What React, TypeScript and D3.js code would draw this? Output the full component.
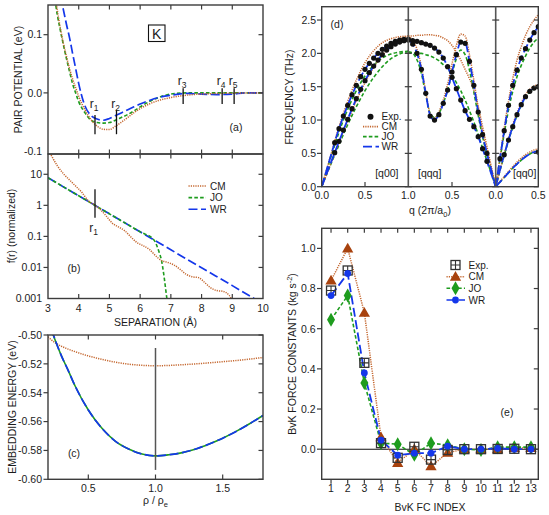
import { useEffect, useRef } from "react"
import * as d3 from "d3"

// ---------- (a) pair potential, eV vs separation (Å) ----------
const R_PAIR = [3.2, 3.3, 3.4, 3.5, 3.6, 3.7, 3.8, 3.9, 4.0, 4.2, 4.4, 4.6, 4.8, 5.0, 5.2, 5.4, 5.6, 5.8, 6.0, 6.3, 6.6, 7.0, 7.5, 8.0, 8.5, 9.0, 9.5, 10.0]
const PAIR_CM = [0.18, 0.143, 0.112, 0.085, 0.063, 0.042, 0.024, 0.009, -0.006, -0.029, -0.046, -0.057, -0.0625, -0.063, -0.057, -0.05, -0.042, -0.034, -0.027, -0.019, -0.013, -0.008, -0.004, -0.002, -0.001, -0.0005, 0, 0]
const PAIR_JO = [0.17, 0.135, 0.108, 0.083, 0.059, 0.037, 0.016, 0.0, -0.015, -0.034, -0.047, -0.051, -0.052, -0.051, -0.047, -0.042, -0.037, -0.031, -0.024, -0.015, -0.008, -0.002, 0, 0, 0, 0, 0, 0]
const PAIR_WR = [0.23, 0.195, 0.168, 0.143, 0.118, 0.095, 0.068, 0.042, 0.016, -0.022, -0.039, -0.045, -0.047, -0.044, -0.039, -0.034, -0.029, -0.024, -0.019, -0.013, -0.008, -0.004, -0.001, -0.002, -0.003, -0.002, 0, 0]
const NEIGHBOURS = [4.53, 5.23, 7.4, 8.67, 9.06]

// ---------- (b) density function f(r), normalized ----------
const R_DENS_CM = [3.1, 3.3, 3.5, 3.7, 3.9, 4.1, 4.3, 4.53, 4.7, 4.9, 5.1, 5.3, 5.5, 5.7, 5.9, 6.1, 6.3, 6.5, 6.7, 6.9, 7.1, 7.3, 7.5, 7.7, 7.9, 8.1, 8.3, 8.5, 8.7, 8.9, 9.0, 9.1]
const DENS_CM = [41.7, 19.1, 10.5, 6.6, 4.17, 2.63, 1.45, 1.0, 0.74, 0.447, 0.263, 0.2, 0.151, 0.0955, 0.063, 0.05, 0.038, 0.024, 0.0166, 0.0145, 0.012, 0.0087, 0.006, 0.005, 0.0047, 0.0033, 0.0022, 0.0018, 0.0017, 0.00126, 0.00089, 0.0006]
const R_DENS_JO = [3, 4, 4.53, 5, 6, 6.45, 6.6, 6.7, 6.78, 6.87, 6.95]
const DENS_JO = [7.7, 2.03, 1, 0.533, 0.14, 0.077, 0.035, 0.016, 0.005, 0.001, 0.0003]
const R_DENS_WR = [3, 4, 5, 6, 7, 8, 9, 10]
const DENS_WR = [7.7, 2.03, 0.533, 0.14, 0.037, 0.0097, 0.0026, 0.00067]

// ---------- (c) embedding energy, eV vs rho/rho_e ----------
const RHO = [0.2, 0.25, 0.3, 0.35, 0.4, 0.5, 0.6, 0.7, 0.8, 0.9, 1.0, 1.1, 1.2, 1.3, 1.4, 1.5, 1.6, 1.7, 1.8]
const EMB_CM = [-0.5012, -0.5052, -0.5078, -0.5098, -0.5115, -0.5145, -0.5168, -0.5188, -0.5202, -0.521, -0.5213, -0.5211, -0.5206, -0.52, -0.5193, -0.5185, -0.5177, -0.5167, -0.5156]
const EMB_JO = [-0.49, -0.5028, -0.5145, -0.5245, -0.535, -0.552, -0.5645, -0.5735, -0.579, -0.5825, -0.5838, -0.583, -0.5815, -0.579, -0.5755, -0.5715, -0.5668, -0.5615, -0.5558]
const EMB_WR = [-0.488, -0.5025, -0.5145, -0.5245, -0.535, -0.552, -0.5645, -0.5735, -0.579, -0.5825, -0.5838, -0.583, -0.5815, -0.579, -0.5755, -0.5715, -0.5668, -0.5615, -0.5558]

// ---------- (d) phonon dispersion, THz ----------
// [q00]
const Q_Q00 = [0, 0.1, 0.2, 0.3, 0.4, 0.5, 0.6, 0.7, 0.8, 0.9, 1.0]
const Q00_WR_L = [0, 0.44, 0.87, 1.22, 1.52, 1.76, 1.93, 2.06, 2.15, 2.2, 2.21]
const Q00_WR_T = [0, 0.34, 0.68, 1.01, 1.32, 1.59, 1.81, 1.98, 2.1, 2.17, 2.21]
const Q00_CM_L = [0, 0.45, 0.9, 1.28, 1.6, 1.86, 2.04, 2.16, 2.22, 2.25, 2.26]
const Q00_CM_T = [0, 0.33, 0.66, 0.98, 1.29, 1.56, 1.79, 1.97, 2.11, 2.21, 2.26]
const Q00_JO_L = [0, 0.42, 0.82, 1.16, 1.44, 1.66, 1.82, 1.93, 1.99, 2.02, 2.03]
const Q00_JO_T = [0, 0.32, 0.63, 0.93, 1.2, 1.44, 1.64, 1.8, 1.92, 1.99, 2.03]
const Q_Q00_EXP = [0.15, 0.2, 0.25, 0.3, 0.35, 0.4, 0.45, 0.5, 0.55, 0.6, 0.65, 0.7, 0.75, 0.8, 0.85, 0.9, 0.95, 1.0]
const Q00_EXP_L = [0.66, 0.87, 1.06, 1.22, 1.38, 1.52, 1.65, 1.76, 1.85, 1.93, 2.0, 2.06, 2.11, 2.15, 2.18, 2.2, 2.21, 2.21]
const Q00_EXP_T = [0.51, 0.68, 0.85, 1.01, 1.17, 1.32, 1.46, 1.59, 1.71, 1.81, 1.9, 1.98, 2.05, 2.1, 2.14, 2.17, 2.19, 2.2]
// [qqq]
const Q_QQQ = [0, 0.05, 0.1, 0.15, 0.2, 0.25, 0.3, 0.35, 0.4, 0.45, 0.5, 0.55, 0.6, 0.65, 0.7, 0.75, 0.8, 0.85, 0.9, 0.95, 1.0]
const QQQ_WR_L = [0, 0.25, 0.5, 0.78, 1.12, 1.52, 1.88, 2.16, 2.17, 1.98, 1.72, 1.45, 1.25, 1.08, 1.0, 1.07, 1.4, 1.76, 2.0, 2.14, 2.2]
const QQQ_WR_T = [0, 0.19, 0.38, 0.57, 0.75, 0.9, 1.01, 1.14, 1.3, 1.47, 1.64, 1.8, 1.93, 2.02, 2.08, 2.12, 2.14, 2.16, 2.18, 2.19, 2.2]
const QQQ_CM_L = [0, 0.26, 0.52, 0.82, 1.18, 1.6, 1.98, 2.26, 2.29, 2.12, 1.84, 1.54, 1.3, 1.12, 1.03, 1.1, 1.42, 1.8, 2.06, 2.2, 2.26]
const QQQ_CM_T = [0, 0.3, 0.6, 0.9, 1.2, 1.45, 1.62, 1.76, 1.9, 2.02, 2.12, 2.19, 2.23, 2.26, 2.27, 2.28, 2.28, 2.27, 2.27, 2.26, 2.26]
const QQQ_JO_L = [0, 0.24, 0.48, 0.75, 1.07, 1.42, 1.75, 1.98, 2.05, 1.92, 1.7, 1.45, 1.25, 1.1, 1.04, 1.1, 1.38, 1.7, 1.9, 2.0, 2.02]
const QQQ_JO_T = [0, 0.2, 0.39, 0.58, 0.78, 0.97, 1.14, 1.3, 1.44, 1.56, 1.68, 1.77, 1.83, 1.89, 1.93, 1.96, 1.98, 2.0, 2.0, 2.01, 2.02]
const Q_QQQ_EXP_L = [0.1, 0.15, 0.2, 0.25, 0.3, 0.35, 0.4, 0.45, 0.5, 0.55, 0.6, 0.65, 0.7, 0.75, 0.8, 0.85, 0.9, 0.95]
const QQQ_EXP_L = [0.5, 0.78, 1.12, 1.52, 1.88, 2.15, 2.17, 1.98, 1.72, 1.45, 1.25, 1.08, 1.0, 1.06, 1.4, 1.76, 2.0, 2.14]
const Q_QQQ_EXP_T = [0.1, 0.15, 0.2, 0.25, 0.3, 0.35, 0.4, 0.45, 0.5, 0.55, 0.6, 0.65, 0.7, 0.75, 0.8, 0.85, 0.9, 0.95]
const QQQ_EXP_T = [0.38, 0.57, 0.75, 0.9, 1.01, 1.14, 1.3, 1.47, 1.64, 1.8, 1.93, 2.02, 2.08, 2.12, 2.14, 2.16, 2.18, 2.19]
// [qq0]
const Q_QQ0 = [0, 0.05, 0.1, 0.15, 0.2, 0.25, 0.3, 0.35, 0.4, 0.45, 0.5]
const QQ0_WR_L = [0, 0.42, 0.84, 1.22, 1.52, 1.75, 1.93, 2.07, 2.2, 2.31, 2.4]
const QQ0_WR_T1 = [0, 0.25, 0.48, 0.7, 0.9, 1.08, 1.23, 1.35, 1.43, 1.48, 1.5]
const QQ0_WR_T2 = [0, 0.07, 0.14, 0.21, 0.28, 0.34, 0.4, 0.45, 0.49, 0.52, 0.53]
const QQ0_CM_L = [0, 0.44, 0.88, 1.28, 1.62, 1.9, 2.1, 2.27, 2.4, 2.5, 2.58]
const QQ0_CM_T1 = [0, 0.25, 0.49, 0.72, 0.93, 1.11, 1.26, 1.38, 1.46, 1.51, 1.53]
const QQ0_CM_T2 = [0, 0.08, 0.15, 0.23, 0.3, 0.37, 0.43, 0.48, 0.52, 0.55, 0.57]
const QQ0_JO_L = [0, 0.41, 0.8, 1.15, 1.43, 1.65, 1.82, 1.96, 2.08, 2.17, 2.23]
const QQ0_JO_T1 = [0, 0.24, 0.47, 0.69, 0.89, 1.07, 1.22, 1.34, 1.42, 1.47, 1.49]
const QQ0_JO_T2 = [0, 0.07, 0.14, 0.21, 0.28, 0.34, 0.4, 0.45, 0.49, 0.52, 0.53]
const Q_QQ0_EXP_L = [0.05, 0.1, 0.15, 0.2, 0.25, 0.3, 0.35, 0.4, 0.45, 0.5]
const QQ0_EXP_L = [0.42, 0.84, 1.22, 1.52, 1.75, 1.93, 2.07, 2.2, 2.31, 2.4]
const Q_QQ0_EXP_T1 = [0.1, 0.15, 0.2, 0.25, 0.3, 0.35, 0.4, 0.45, 0.5]
const QQ0_EXP_T1 = [0.48, 0.7, 0.9, 1.08, 1.23, 1.35, 1.43, 1.48, 1.5]
const Q_QQ0_EXP_T2 = [0.5]
const QQ0_EXP_T2 = [0.52]

// ---------- (e) BvK force constants, kg s^-2 ----------
const BVK_INDEX = [1, 2, 3, 4, 5, 6, 7, 8, 9, 10, 11, 12, 13]
const BVK_EXP = [0.79, 0.89, 0.43, 0.03, -0.043, 0.012, -0.052, -0.004, 0.0, 0.0, 0.001, 0.002, 0.0]
const BVK_CM = [0.84, 1.0, 0.68, 0.06, -0.068, 0.0, -0.085, -0.018, 0.0, 0.0, 0.0, 0.006, 0.006]
const BVK_JO = [0.645, 0.765, 0.33, 0.03, 0.025, -0.028, 0.03, 0.02, 0.0, -0.004, 0.01, 0.01, 0.01]
const BVK_WR = [0.765, 0.875, 0.38, 0.045, -0.03, -0.02, -0.02, 0.015, 0.0, 0.0, 0.004, 0.0, 0.0]

const FONT = "'Liberation Sans', Arial, Helvetica, sans-serif"
const INK = "#1c1c1c"
const AXIS = "#3c3c3c"
const CM_COLOR = "#c4672f"
const CM_MARK = "#a8420e"
const JO_COLOR = "#1e9c1e"
const WR_COLOR = "#1437ea"
const CM_DASH = "1.2,1.1"
const JO_DASH = "3.6,2.2"
const WR_DASH = "9,3.5"

function text(g, x, y, txt, size = 10.5, anchor = "middle") {
	return g
		.append("text")
		.attr("x", x)
		.attr("y", y)
		.attr("text-anchor", anchor)
		.attr("font-family", FONT)
		.attr("font-size", size)
		.attr("fill", INK)
		.text(txt)
}

function vtext(g, x, y, txt, size = 10.5) {
	return g
		.append("text")
		.attr("transform", `translate(${x},${y}) rotate(-90)`)
		.attr("text-anchor", "middle")
		.attr("font-family", FONT)
		.attr("font-size", size)
		.attr("fill", INK)
		.text(txt)
}

function seg(g, x1, y1, x2, y2, color = AXIS, w = 1.2) {
	return g
		.append("line")
		.attr("x1", x1)
		.attr("y1", y1)
		.attr("x2", x2)
		.attr("y2", y2)
		.attr("stroke", color)
		.attr("stroke-width", w)
}

function frame(g, x0, y0, x1, y1) {
	g.append("rect")
		.attr("x", x0)
		.attr("y", y0)
		.attr("width", x1 - x0)
		.attr("height", y1 - y0)
		.attr("fill", "none")
		.attr("stroke", AXIS)
		.attr("stroke-width", 1.4)
}

function clip(svg, id, x0, y0, x1, y1) {
	svg.append("clipPath")
		.attr("id", id)
		.append("rect")
		.attr("x", x0)
		.attr("y", y0)
		.attr("width", x1 - x0)
		.attr("height", y1 - y0)
}

function series(g, xs, ys, x, y, color, dash, w = 1.5) {
	const pts = xs.map((d, i) => [x(d), y(ys[i])]).sort((a, b) => a[0] - b[0])
	const line = d3.line().curve(d3.curveMonotoneX)
	g.append("path")
		.attr("d", line(pts))
		.attr("fill", "none")
		.attr("stroke", color)
		.attr("stroke-width", w)
		.attr("stroke-dasharray", dash)
}

function drawPair(svg) {
	const x = d3.scaleLinear().domain([3, 10]).range([48, 263])
	const y = d3.scaleLinear().domain([-0.105, 0.151]).range([154, 5])
	const g = svg.append("g")
	clip(svg, "clipA", 48, 5, 263, 154)
	const plot = g.append("g").attr("clip-path", "url(#clipA)")
	series(plot, R_PAIR, PAIR_JO, x, y, JO_COLOR, JO_DASH, 1.6)
	series(plot, R_PAIR, PAIR_WR, x, y, WR_COLOR, WR_DASH, 1.7)
	series(plot, R_PAIR, PAIR_CM, x, y, CM_COLOR, CM_DASH, 1.5)

	NEIGHBOURS.forEach((r, i) => {
		const span = i < 2 ? [-0.071, i === 0 ? -0.038 : -0.029] : [-0.019, 0.008]
		seg(g, x(r), y(span[0]), x(r), y(span[1]), "#111", 1.3)
		const t = text(g, x(r) - 1, i < 2 ? 107.5 : 84.5, "r", 12)
		t.append("tspan").attr("font-size", 8.5).attr("dy", 3.5).text(String(i + 1))
	})

	frame(g, 48, 5, 263, 154)
	;[0.1, 0.0, -0.1].forEach((v) => {
		if (v > -0.1) {
			seg(g, 43.5, y(v), 48, y(v))
			seg(g, 258.5, y(v), 263, y(v))
		}
		text(g, 42, y(v) + 3.8, v.toFixed(1), 10.5, "end")
	})
	d3.range(4, 10).forEach((v) => {
		seg(g, x(v), 5, x(v), 9.5)
		seg(g, x(v), 154, x(v), 149.5)
	})

	g.append("rect").attr("x", 148.5).attr("y", 25).attr("width", 16.5).attr("height", 16.5).attr("fill", "#fff").attr("stroke", "#111").attr("stroke-width", 1.1)
	text(g, 156.7, 38.5, "K", 14)
	text(g, 236, 130.5, "(a)")
	vtext(g, 21.5, 79.5, "PAIR POTENTIAL (eV)")
}

function drawDensity(svg) {
	const x = d3.scaleLinear().domain([3, 10]).range([48, 263])
	const y = d3.scaleLog().domain([0.001, 45]).range([298.5, 154])
	const g = svg.append("g")
	clip(svg, "clipB", 48, 154, 263, 298.5)
	const plot = g.append("g").attr("clip-path", "url(#clipB)")
	series(plot, R_DENS_WR, DENS_WR, x, y, WR_COLOR, WR_DASH, 1.7)
	series(plot, R_DENS_JO, DENS_JO, x, y, JO_COLOR, JO_DASH, 1.6)
	series(plot, R_DENS_CM, DENS_CM, x, y, CM_COLOR, CM_DASH, 1.5)

	seg(g, x(NEIGHBOURS[0]), y(3.3), x(NEIGHBOURS[0]), y(0.4), "#111", 1.3)
	const t = text(g, x(NEIGHBOURS[0]) - 1.5, 231.5, "r", 12)
	t.append("tspan").attr("font-size", 8.5).attr("dy", 3.5).text("1")

	frame(g, 48, 154, 263, 298.5)
	;[10, 1, 0.1, 0.01, 0.001].forEach((v) => {
		if (v > 0.001) {
			seg(g, 43.5, y(v), 48, y(v))
			seg(g, 258.5, y(v), 263, y(v))
		}
		text(g, 42, y(v) + 3.8, String(v), 10.5, "end")
	})
	d3.range(3, 11).forEach((v) => {
		if (v > 3 && v < 10) {
			seg(g, x(v), 154, x(v), 158.5)
			seg(g, x(v), 298.5, x(v), 294)
		}
		text(g, x(v), 312, String(v))
	})
	text(g, 155.5, 325.5, "SEPARATION (Å)")

	const legend = [
		["CM", CM_COLOR, CM_DASH],
		["JO", JO_COLOR, JO_DASH],
		["WR", WR_COLOR, WR_DASH],
	]
	legend.forEach(([name, color, dash], i) => {
		const ly = 186 + i * 11.6
		seg(g, 188.5, ly, 206, ly, color, 1.6).attr("stroke-dasharray", dash)
		text(g, 210, ly + 3.6, name, 10, "start")
	})
	text(g, 74, 271.5, "(b)")
	vtext(g, 15, 226, "f(r) (normalized)")
}

function drawEmbedding(svg) {
	const x = d3.scaleLinear().domain([0.2, 1.8]).range([48, 263])
	const y = d3.scaleLinear().domain([-0.6, -0.5]).range([479.3, 335])
	const g = svg.append("g")
	clip(svg, "clipC", 48, 335, 263, 479.3)
	const plot = g.append("g").attr("clip-path", "url(#clipC)")
	series(plot, RHO, EMB_CM, x, y, CM_COLOR, CM_DASH, 1.5)
	series(plot, RHO, EMB_JO, x, y, JO_COLOR, "none", 1.6)
	series(plot, RHO, EMB_WR, x, y, WR_COLOR, WR_DASH, 1.7)
	seg(g, x(1), y(-0.509), x(1), y(-0.5935), "#555", 1.5)

	frame(g, 48, 335, 263, 479.3)
	d3.range(-0.6, -0.4999, 0.02).forEach((v) => {
		seg(g, 43.5, y(v), 48, y(v))
		seg(g, 258.5, y(v), 263, y(v))
		text(g, 42, y(v) + 3.8, v.toFixed(2), 10.5, "end")
	})
	;[0.5, 1.0, 1.5].forEach((v) => {
		seg(g, x(v), 479.3, x(v), 474.5)
		seg(g, x(v), 335, x(v), 339.5)
		text(g, x(v), 491.5, v.toFixed(1))
	})
	const lab = text(g, 155.5, 503.5, "ρ / ρ")
	lab.append("tspan").attr("font-size", 7.5).attr("dy", 3).text("e")
	text(g, 74, 457, "(c)")
	vtext(g, 16, 407, "EMBEDDING ENERGY (eV)")
}

function drawDispersion(svg) {
	// path coordinate: [q00] 0..1, [qqq] 1..2 (q from 1 to 0), [qq0] 2..2.5
	const x = d3.scaleLinear().domain([0, 1, 2, 2.5]).range([321.7, 408.3, 495.7, 538.3])
	const y = d3.scaleLinear().domain([0, 2.7]).range([186.7, 6.7])
	const q00 = (q) => q
	const qqq = (q) => 2 - q
	const qq0 = (q) => 2 + q
	const g = svg.append("g")
	clip(svg, "clipD", 321.7, 6.7, 538.3, 186.7)
	const plot = g.append("g").attr("clip-path", "url(#clipD)")

	const models = [
		[JO_COLOR, JO_DASH, 1.6, [Q00_JO_L, Q00_JO_T], [QQQ_JO_L, QQQ_JO_T], [QQ0_JO_L, QQ0_JO_T1, QQ0_JO_T2]],
		[CM_COLOR, CM_DASH, 1.5, [Q00_CM_L, Q00_CM_T], [QQQ_CM_L, QQQ_CM_T], [QQ0_CM_L, QQ0_CM_T1, QQ0_CM_T2]],
		[WR_COLOR, WR_DASH, 1.8, [Q00_WR_L, Q00_WR_T], [QQQ_WR_L, QQQ_WR_T], [QQ0_WR_L, QQ0_WR_T1, QQ0_WR_T2]],
	]
	models.forEach(([color, dash, w, a, b, c]) => {
		a.forEach((f) => series(plot, Q_Q00.map(q00), f, x, y, color, dash, w))
		b.forEach((f) => series(plot, Q_QQQ.map(qqq), f, x, y, color, dash, w))
		c.forEach((f) => series(plot, Q_QQ0.map(qq0), f, x, y, color, dash, w))
	})

	const exp = [
		[Q_Q00_EXP.map(q00), Q00_EXP_L],
		[Q_Q00_EXP.map(q00), Q00_EXP_T],
		[Q_QQQ_EXP_L.map(qqq), QQQ_EXP_L],
		[Q_QQQ_EXP_T.map(qqq), QQQ_EXP_T],
		[Q_QQ0_EXP_L.map(qq0), QQ0_EXP_L],
		[Q_QQ0_EXP_T1.map(qq0), QQ0_EXP_T1],
		[Q_QQ0_EXP_T2.map(qq0), QQ0_EXP_T2],
	]
	exp.forEach(([s, f]) => {
		plot.append("g")
			.selectAll("circle")
			.data(s)
			.enter()
			.append("circle")
			.attr("cx", (d) => x(d))
			.attr("cy", (d, i) => y(f[i]))
			.attr("r", 2.6)
			.attr("fill", "#111")
	})

	frame(g, 321.7, 6.7, 538.3, 186.7)
	;[1, 2].forEach((s) => seg(g, x(s), 6.7, x(s), 186.7, "#555", 1.6))
	d3.range(0, 2.51, 0.5).forEach((v) => {
		seg(g, 317, y(v), 321.7, y(v))
		seg(g, 533.8, y(v), 538.3, y(v))
		;[1, 2].forEach((s) => seg(g, x(s) - 3.5, y(v), x(s) + 3.5, y(v)))
		text(g, 316, y(v) + 3.8, v.toFixed(1), 10.5, "end")
	})
	;[
		[0, "0.0"],
		[0.5, "0.5"],
		[1, "1.0"],
		[1.5, "0.5"],
		[2, "0.0"],
		[2.5, "0.5"],
	].forEach(([s, lab]) => {
		if (s === 0.5 || s === 1.5) seg(g, x(s), 186.7, x(s), 182)
		text(g, x(s), 199, lab)
	})
	text(g, 398.5, 177, "[q00]", 10.5, "end")
	text(g, 418, 177, "[qqq]", 10.5, "start")
	text(g, 513, 177, "[qq0]", 10.5, "start")
	const xl = text(g, 430, 214, "q (2π/a")
	xl.append("tspan").attr("font-size", 7.5).attr("dy", 3).text("0")
	xl.append("tspan").attr("dy", -3).text(")")
	text(g, 337, 27.5, "(d)")
	vtext(g, 292.5, 97, "FREQUENCY (THz)")

	g.append("circle").attr("cx", 370.5).attr("cy", 116.7).attr("r", 3).attr("fill", "#111")
	text(g, 381.5, 120.2, "Exp.", 10, "start")
	const leg = [
		["CM", CM_COLOR, CM_DASH],
		["JO", JO_COLOR, JO_DASH],
		["WR", WR_COLOR, WR_DASH],
	]
	leg.forEach(([name, color, dash], i) => {
		const ly = 126.7 + i * 10
		seg(g, 363, ly, 379, ly, color, 1.7).attr("stroke-dasharray", dash)
		text(g, 381.5, ly + 3.5, name, 10, "start")
	})
}

function diamond(cx, cy) {
	return `M${cx},${cy - 7}L${cx + 4},${cy}L${cx},${cy + 7}L${cx - 4},${cy}Z`
}

function drawBvK(svg) {
	const x = d3.scaleLinear().domain([0.44, 13.44]).range([321.7, 538.3])
	const y = d3.scaleLinear().domain([-0.15, 1.1]).range([479.3, 228.3])
	const g = svg.append("g")
	clip(svg, "clipE", 321.7, 228.3, 538.3, 479.3)
	const plot = g.append("g").attr("clip-path", "url(#clipE)")
	seg(plot, 321.7, y(0), 538.3, y(0), "#111", 1.1)

	const line = d3.line()
	const path = (vals, color, dash, w) =>
		plot.append("path")
			.attr("d", line(BVK_INDEX.map((d, i) => [x(d), y(vals[i])])))
			.attr("fill", "none")
			.attr("stroke", color)
			.attr("stroke-width", w)
			.attr("stroke-dasharray", dash)
	path(BVK_CM, CM_COLOR, CM_DASH, 1.5)
	path(BVK_JO, JO_COLOR, JO_DASH, 1.6)
	path(BVK_WR, WR_COLOR, WR_DASH, 1.8)

	const tri = d3.symbol().type(d3.symbolTriangle).size(55)
	plot.append("g").selectAll("path").data(BVK_INDEX).enter().append("path")
		.attr("d", tri())
		.attr("transform", (d, i) => `translate(${x(d)},${y(BVK_CM[i]) + 0.8})`)
		.attr("fill", CM_MARK)
	plot.append("g").selectAll("path").data(BVK_INDEX).enter().append("path")
		.attr("d", (d, i) => diamond(x(d), y(BVK_JO[i])))
		.attr("fill", JO_COLOR)
	const sq = plot.append("g").selectAll("g").data(BVK_INDEX).enter().append("g")
		.attr("transform", (d, i) => `translate(${x(d)},${y(BVK_EXP[i])})`)
	sq.append("rect").attr("x", -4.5).attr("y", -4.5).attr("width", 9).attr("height", 9).attr("fill", "none").attr("stroke", "#333").attr("stroke-width", 1.3)
	sq.append("path").attr("d", "M-4.5,0H4.5M0,-4.5V4.5").attr("stroke", "#333").attr("stroke-width", 1.1)
	plot.append("g").selectAll("circle").data(BVK_INDEX).enter().append("circle")
		.attr("cx", (d) => x(d))
		.attr("cy", (d, i) => y(BVK_WR[i]))
		.attr("r", 3.4)
		.attr("fill", WR_COLOR)

	frame(g, 321.7, 228.3, 538.3, 479.3)
	d3.range(0, 1.01, 0.2).forEach((v) => {
		seg(g, 317, y(v), 321.7, y(v))
		seg(g, 533.8, y(v), 538.3, y(v))
		text(g, 315.5, y(v) + 3.8, v.toFixed(1), 10.5, "end")
	})
	BVK_INDEX.forEach((v) => {
		seg(g, x(v), 479.3, x(v), 483.8)
		seg(g, x(v), 228.3, x(v), 232.8)
		text(g, x(v), 492, String(v))
	})
	text(g, 430, 511, "BvK FC INDEX")
	text(g, 507, 415.5, "(e)")
	const yl = vtext(g, 296, 354, "BvK FORCE CONSTANTS (kg s")
	yl.append("tspan").attr("font-size", 7.5).attr("dy", -4).text("-2")
	yl.append("tspan").attr("dy", 4).text(")")

	// legend
	const lg = g.append("g")
	const lx = 455.5
	const sqg = lg.append("g").attr("transform", `translate(${lx},265)`)
	sqg.append("rect").attr("x", -4.5).attr("y", -4.5).attr("width", 9).attr("height", 9).attr("fill", "none").attr("stroke", "#333").attr("stroke-width", 1.3)
	sqg.append("path").attr("d", "M-4.5,0H4.5M0,-4.5V4.5").attr("stroke", "#333").attr("stroke-width", 1.1)
	text(lg, 468.5, 268.6, "Exp.", 10, "start")
	;[
		["CM", CM_COLOR, CM_DASH, 276.7],
		["JO", JO_COLOR, JO_DASH, 288.3],
		["WR", WR_COLOR, WR_DASH, 300],
	].forEach(([name, color, dash, ly]) => {
		seg(lg, 446.5, ly, 465, ly, color, 1.6).attr("stroke-dasharray", dash)
		text(lg, 468.5, ly + 3.6, name, 10, "start")
	})
	lg.append("path").attr("d", tri()).attr("transform", `translate(${lx},277.5)`).attr("fill", CM_MARK)
	lg.append("path").attr("d", diamond(lx, 288.3)).attr("fill", JO_COLOR)
	lg.append("circle").attr("cx", lx).attr("cy", 300).attr("r", 3.4).attr("fill", WR_COLOR)
}

export default function App() {
	const ref = useRef(null)

	useEffect(() => {
		const svg = d3.select(ref.current)
		svg.selectAll("*").remove()
		drawPair(svg)
		drawDensity(svg)
		drawEmbedding(svg)
		drawDispersion(svg)
		drawBvK(svg)
	}, [])

	return (
		<svg
			ref={ref}
			width={549}
			height={515}
			style={{ position: "absolute", left: 0, top: 0, background: "#fff" }}
		></svg>
	)
}
